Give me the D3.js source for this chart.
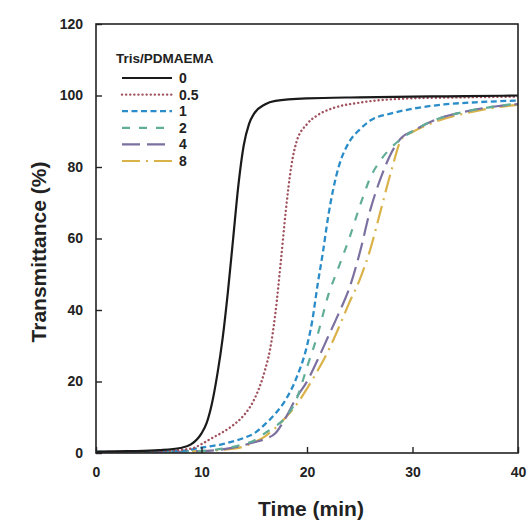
<!DOCTYPE html>
<html>
<head>
<meta charset="utf-8">
<script src="https://cdn.jsdelivr.net/npm/d3@7"></script>
<style>
  body { margin: 0; background: #fff; }
  text { font-family: "Liberation Sans", Arial, sans-serif; fill: #222; }
</style>
</head>
<body>
<svg id="chart" width="527" height="520"></svg>
<script>
// values
const names = ["0", "0.5", "1", "2", "4", "8"];

const t0 = [0, 3, 6, 8, 9, 10, 10.5, 11, 11.5, 12, 12.5, 13, 13.5, 14, 14.5, 15, 16, 17, 20, 25, 30, 35, 40];
const v0 = [0.3, 0.5, 0.8, 1.4, 2.4, 5.5, 8.5, 14, 22, 32, 45, 60, 75, 86, 92, 95, 97.5, 98.5, 99.2, 99.5, 99.7, 99.8, 100];

const t05 = [0, 5, 9, 10, 11, 12, 13, 14, 15, 16, 16.5, 17, 17.5, 18, 18.5, 19, 20, 21, 22.5, 25, 30, 35, 40];
const v05 = [0.3, 0.4, 1.2, 2.5, 4.2, 5.8, 7.8, 10.5, 15, 23, 29, 39, 53, 68, 80, 87, 92, 94.5, 96.5, 98, 99.2, 99.5, 99.7];

const t1 = [0, 5, 8, 10, 12, 14, 15, 16, 17, 18, 19, 20, 20.5, 21, 21.5, 22, 22.5, 23, 24, 25, 26, 28, 30, 33, 36, 40];
const v1 = [0.3, 0.4, 0.6, 1.5, 2.5, 4.2, 5.5, 8, 11, 15, 21, 30, 37, 47, 56, 66, 74, 80, 87, 90.5, 93, 95, 96.3, 97.5, 98.1, 98.6];

const tLate = [0, 5, 10, 12, 14, 15, 16, 17, 18, 19, 20, 21, 22, 23, 24, 25, 26, 27, 28, 29, 30, 32, 35, 38, 40];
const v2 = [0.3, 0.3, 0.6, 1.2, 2.5, 3.5, 5.5, 7.5, 10, 15, 24, 33, 44, 52, 60, 69, 77, 82, 85.5, 88, 90, 93, 95.5, 97, 97.8];
const v4 = [0.3, 0.3, 0.5, 1.0, 2.2, 3, 3.9, 5.5, 10, 15.5, 20, 26, 32.5, 39, 46, 56, 68, 77, 84, 88.3, 90, 93, 95.5, 97, 97.6];
const v8 = [0.3, 0.3, 0.5, 0.9, 1.8, 3, 4.6, 7, 10, 13.5, 18, 23, 28.5, 35, 42, 48.5, 57, 68, 79, 88, 89.8, 92.5, 95, 96.7, 97.4];

const xTicks = [0, 10, 20, 30, 40];
const yTicks = [0, 20, 40, 60, 80, 100, 120];

const series = [
  {name: names[0], t: t0, v: v0, color: "#1a1a1a", dash: null, w: 2.2},
  {name: names[1], t: t05, v: v05, color: "#a0525e", dash: "0.1,4", w: 2.4, cap: "round"},
  {name: names[2], t: t1, v: v1, color: "#2a8cc8", dash: "6,3.5", w: 2.3},
  {name: names[3], t: tLate, v: v2, color: "#62ad98", dash: "8,9", w: 2.2},
  {name: names[4], t: tLate, v: v4, color: "#7b70a0", dash: "18,7", w: 2.2},
  {name: names[5], t: tLate, v: v8, color: "#d9b24a", dash: "18,6,2,6", w: 2.2}
];

const m = {left: 96, right: 518, top: 24, bottom: 453};

const x = d3.scaleLinear().domain([0, 40]).range([m.left, m.right]);
const y = d3.scaleLinear().domain([0, 120]).range([m.bottom, m.top]);

const svg = d3.select("#chart");

svg.append("defs").append("clipPath")
    .attr("id", "plot-clip")
  .append("rect")
    .attr("x", m.left)
    .attr("y", m.top)
    .attr("width", m.right - m.left)
    .attr("height", m.bottom - m.top);

const line = d3.line()
  .curve(d3.curveMonotoneX)
  .x(d => x(d[0]))
  .y(d => y(d[1]));

const curves = svg.append("g")
    .attr("clip-path", "url(#plot-clip)");

// draw the late ones first so black sits on top
series.slice().reverse().forEach(s => {
  curves.append("path")
    .attr("fill", "none")
    .attr("stroke", s.color)
    .attr("stroke-width", s.w)
    .attr("stroke-dasharray", s.dash)
    .attr("stroke-linecap", s.cap || "butt")
    .attr("d", line(s.t.map((t, i) => [t, s.v[i]])));
});

// axes, ticks inside
const xAxis = svg.append("g")
    .attr("transform", `translate(0,${m.bottom})`)
    .call(d3.axisBottom(x).tickValues(xTicks).tickSizeInner(-6).tickSizeOuter(0).tickPadding(14));

const yAxis = svg.append("g")
    .attr("transform", `translate(${m.left},0)`)
    .call(d3.axisLeft(y).tickValues(yTicks).tickSizeInner(-6).tickSizeOuter(0).tickPadding(13));

[xAxis, yAxis].forEach(a => {
  a.select(".domain").remove();
  a.selectAll(".tick line").attr("stroke", "#222").attr("stroke-width", 1.4);
  a.selectAll(".tick text")
    .attr("font-size", 14)
    .attr("font-weight", "bold")
    .attr("fill", "#222");
});

svg.append("rect")
    .attr("x", m.left)
    .attr("y", m.top)
    .attr("width", m.right - m.left)
    .attr("height", m.bottom - m.top)
    .attr("fill", "none")
    .attr("stroke", "#222")
    .attr("stroke-width", 1.6);

svg.append("text")
    .attr("x", (m.left + m.right) / 2 + 4)
    .attr("y", 516)
    .attr("text-anchor", "middle")
    .attr("font-size", 21)
    .attr("font-weight", "bold")
    .text("Time (min)");

svg.append("text")
    .attr("transform", `translate(46,252) rotate(-90)`)
    .attr("text-anchor", "middle")
    .attr("font-size", 21)
    .attr("font-weight", "bold")
    .text("Transmittance (%)");

// legend
const legend = svg.append("g")
    .attr("transform", "translate(116,0)");

legend.append("text")
    .attr("x", 0)
    .attr("y", 63)
    .attr("font-size", 13.5)
    .attr("font-weight", "bold")
    .text("Tris/PDMAEMA");

const rowY = d3.scalePoint().domain(names).range([78, 161]);

const row = legend.selectAll("g.row")
  .data(series)
  .join("g")
    .attr("class", "row")
    .attr("transform", d => `translate(0,${rowY(d.name)})`);

row.append("line")
    .attr("x1", 6)
    .attr("x2", 56)
    .attr("stroke", d => d.color)
    .attr("stroke-width", d => d.w)
    .attr("stroke-dasharray", d => d.dash)
    .attr("stroke-linecap", d => d.cap || "butt");

row.append("text")
    .attr("x", 63)
    .attr("y", 5)
    .attr("font-size", 14)
    .attr("font-weight", "bold")
    .text(d => d.name);
</script>
</body>
</html>
